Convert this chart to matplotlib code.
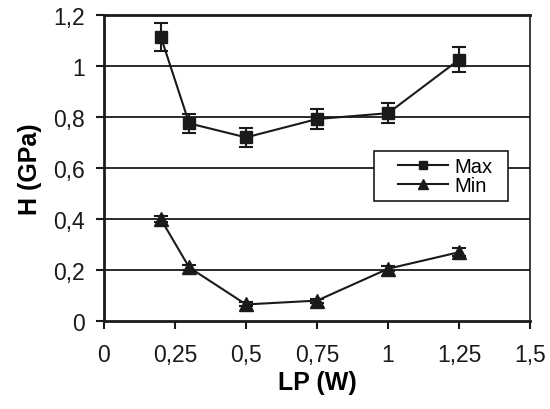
import matplotlib.pyplot as plt
from matplotlib.patches import Rectangle

plt.rcParams['font.family'] = ['Liberation Sans', 'DejaVu Sans']

# hardness vs laser power
lp = [0.2, 0.3, 0.5, 0.75, 1.0, 1.25]
h_max = [1.115, 0.775, 0.72, 0.792, 0.815, 1.025]
h_max_err = [0.055, 0.037, 0.037, 0.04, 0.04, 0.05]
h_min = [0.40, 0.21, 0.065, 0.08, 0.205, 0.27]
h_min_err = [0.012, 0.01, 0.008, 0.008, 0.01, 0.015]

x_ticks = [0, 0.25, 0.5, 0.75, 1.0, 1.25, 1.5]
x_labels = ["0", "0,25", "0,5", "0,75", "1", "1,25", "1,5"]
y_ticks = [0, 0.2, 0.4, 0.6, 0.8, 1.0, 1.2]
y_labels = ["0", "0,2", "0,4", "0,6", "0,8", "1", "1,2"]

ink = "#1a1a1a"

fig = plt.figure(figsize=(5.5, 4.1), dpi=100)
ax = fig.add_axes([0.189, 0.2146, 0.775, 0.7464])

for yt in y_ticks[1:-1]:
    ax.axhline(yt, color=ink, linewidth=1.3, zorder=1)

ax.errorbar(lp, h_max, yerr=h_max_err, color=ink, marker="s", markersize=8,
            linewidth=1.5, capsize=5, capthick=1.5, elinewidth=1.5, label="Max", zorder=3)
ax.errorbar(lp, h_min, yerr=h_min_err, color=ink, marker="^", markersize=9.5,
            linewidth=1.5, capsize=5, capthick=1.5, elinewidth=1.5, label="Min", zorder=3)

ax.set_xlim(0, 1.5)
ax.set_ylim(0, 1.2)
ax.set_xticks(x_ticks)
ax.set_xticklabels(x_labels)
ax.set_yticks(y_ticks)
ax.set_yticklabels(y_labels)
ax.tick_params(direction="out", length=6, width=1.5, labelsize=16.5, colors=ink)
ax.tick_params(axis="x", pad=10)
ax.tick_params(axis="y", pad=8)

for side in ["left", "bottom", "top"]:
    ax.spines[side].set_linewidth(2.0)
ax.spines["right"].set_linewidth(1.2)
for sp in ax.spines.values():
    sp.set_color(ink)

ax.set_xlabel("LP (W)", fontsize=18, fontweight="bold", labelpad=3)
ax.set_ylabel("H (GPa)", fontsize=18, fontweight="bold", labelpad=8)

# legend box with a wider left margin, as in the original plot
ax.add_patch(Rectangle((0.634, 0.392), 0.314, 0.164, transform=ax.transAxes,
                       facecolor="white", edgecolor=ink, linewidth=1.2, zorder=4))
handles, labels = ax.get_legend_handles_labels()
handles = [h[0] for h in handles]
leg = ax.legend(handles, labels, loc="center", bbox_to_anchor=(0.80, 0.474),
                fontsize=14.5, frameon=False, handlelength=2.5, borderpad=0.0,
                labelspacing=0.0, handletextpad=0.3, markerscale=0.8)
leg.set_zorder(5)

fig.savefig("out.png", dpi=100)
